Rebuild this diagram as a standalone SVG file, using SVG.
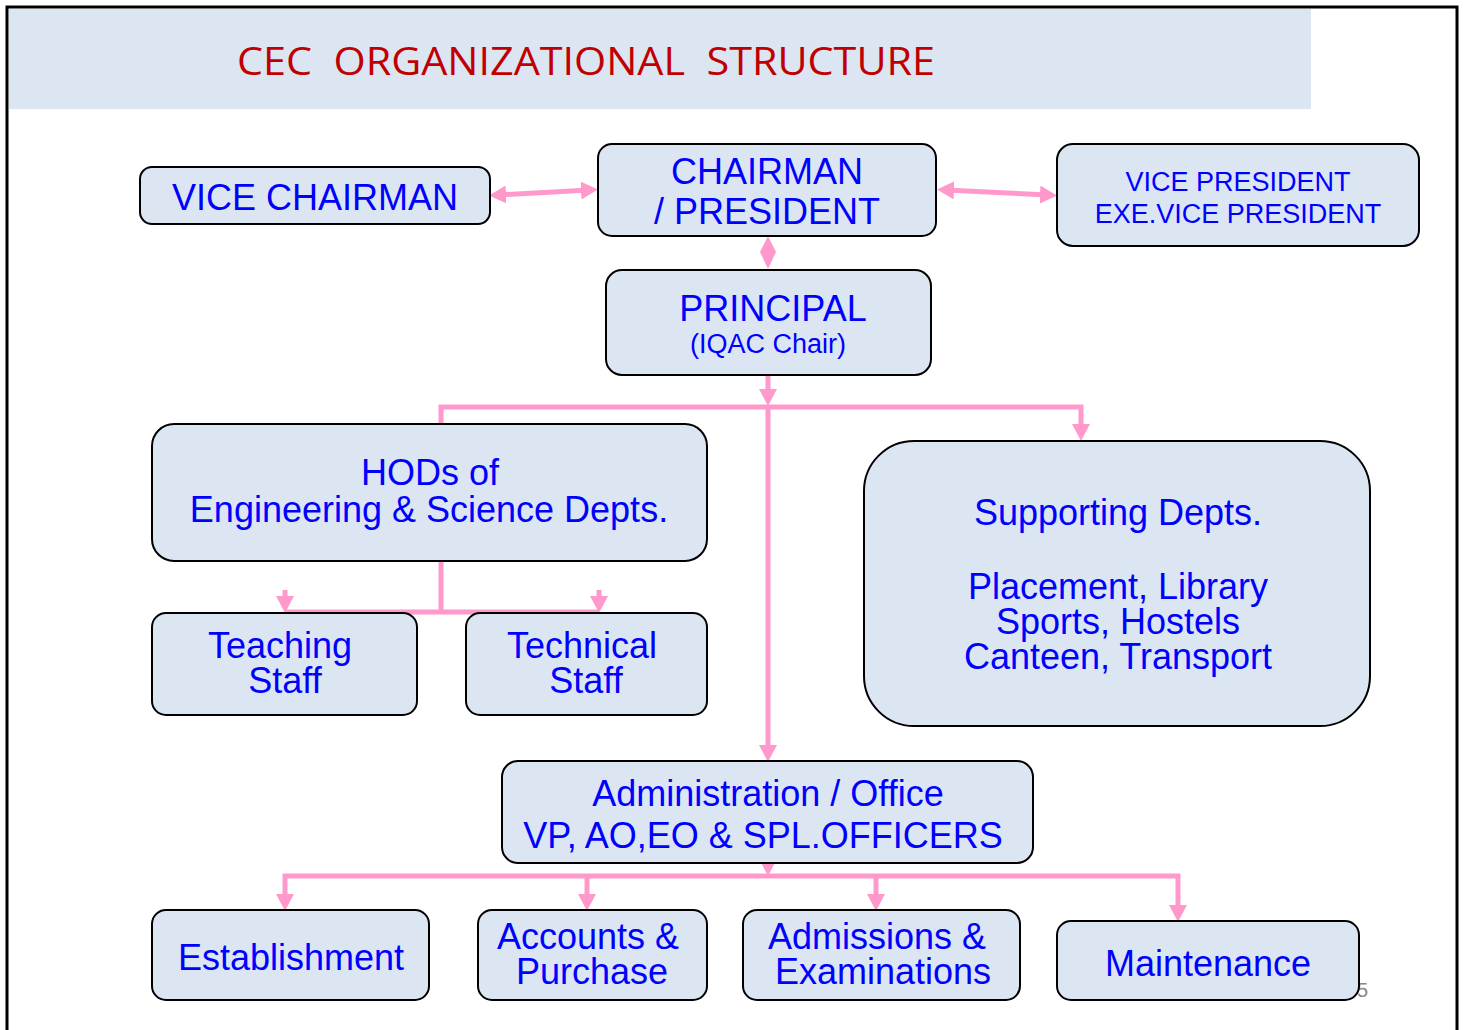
<svg xmlns="http://www.w3.org/2000/svg" width="1464" height="1030" viewBox="0 0 1464 1030">
<defs>
<style>
.node{fill:#dce6f2;stroke:#000;stroke-width:2}
.t{font-family:"Liberation Sans",Arial,sans-serif;fill:#0000ff;text-anchor:middle;font-size:36px}
.s{font-size:27px}
.c{fill:none;stroke:#ff99cc;stroke-width:5}
</style>
<marker id="ah" markerUnits="userSpaceOnUse" markerWidth="18" markerHeight="18" refX="8" refY="9" orient="auto-start-reverse" viewBox="0 0 18 18">
<path d="M0,0 L17,9 L0,18 z" fill="#ff99cc"/>
</marker>
</defs>
<rect x="0" y="0" width="1464" height="1030" fill="#fff"/>
<rect x="9" y="9" width="1302" height="100" fill="#dce6f2"/>
<rect x="7" y="7" width="1450" height="1040" fill="none" stroke="#000" stroke-width="3"/>
<text x="237" y="75" font-family="'Open Sans',sans-serif" font-size="38" fill="#c00000" textLength="698" lengthAdjust="spacingAndGlyphs" xml:space="preserve">CEC  ORGANIZATIONAL  STRUCTURE</text>
<text x="1357" y="997" font-family="'Liberation Sans',Arial,sans-serif" font-size="20" fill="#888">5</text>

<g id="connectors">
<line class="c" x1="498" y1="195" x2="589" y2="190" marker-start="url(#ah)" marker-end="url(#ah)"/>
<line class="c" x1="946" y1="190" x2="1048" y2="195" marker-start="url(#ah)" marker-end="url(#ah)"/>
<polygon points="768,236 776,252 768,269 760,252" fill="#ff99cc"/>
<line class="c" x1="768" y1="376" x2="768" y2="397" marker-end="url(#ah)"/>
<polyline class="c" points="441,432 441,407 1081,407 1081,432" marker-start="url(#ah)" marker-end="url(#ah)"/>
<line class="c" x1="768" y1="407" x2="768" y2="753" marker-end="url(#ah)"/>
<line class="c" x1="441" y1="561" x2="441" y2="612"/>
<line class="c" x1="285" y1="612" x2="599" y2="612"/>
<line class="c" x1="285" y1="590" x2="285" y2="604" marker-end="url(#ah)"/>
<line class="c" x1="599" y1="590" x2="599" y2="604" marker-end="url(#ah)"/>
<line class="c" x1="768" y1="853" x2="768" y2="867" marker-end="url(#ah)"/>
<polyline class="c" points="285,902 285,876 1178,876 1178,913" marker-start="url(#ah)" marker-end="url(#ah)"/>
<line class="c" x1="587" y1="876" x2="587" y2="902" marker-end="url(#ah)"/>
<line class="c" x1="876" y1="876" x2="876" y2="902" marker-end="url(#ah)"/>
</g>

<g id="vice-chairman">
<rect class="node" x="140" y="167" width="350" height="57" rx="12"/>
<text class="t" x="315" y="210" font-size="35">VICE CHAIRMAN</text>
</g>
<g id="chairman">
<rect class="node" x="598" y="144" width="338" height="92" rx="14"/>
<text class="t" x="767" y="184">CHAIRMAN</text>
<text class="t" x="767" y="224">/ PRESIDENT</text>
</g>
<g id="vice-president">
<rect class="node" x="1057" y="144" width="362" height="102" rx="16"/>
<text class="t s" x="1238" y="191">VICE PRESIDENT</text>
<text class="t s" x="1238" y="223">EXE.VICE PRESIDENT</text>
</g>
<g id="principal">
<rect class="node" x="606" y="270" width="325" height="105" rx="16"/>
<text class="t" x="773" y="321">PRINCIPAL</text>
<text class="t s" x="768" y="353">(IQAC Chair)</text>
</g>
<g id="hods">
<rect class="node" x="152" y="424" width="555" height="137" rx="22"/>
<text class="t" x="430" y="485">HODs of</text>
<text class="t" x="429" y="522">Engineering &amp; Science Depts.</text>
</g>
<g id="teaching">
<rect class="node" x="152" y="613" width="265" height="102" rx="14"/>
<text class="t" x="280" y="658">Teaching</text>
<text class="t" x="285" y="693">Staff</text>
</g>
<g id="technical">
<rect class="node" x="466" y="613" width="241" height="102" rx="14"/>
<text class="t" x="582" y="658">Technical</text>
<text class="t" x="586" y="693">Staff</text>
</g>
<g id="supporting">
<rect class="node" x="864" y="441" width="506" height="285" rx="50"/>
<text class="t" x="1118" y="525">Supporting Depts.</text>
<text class="t" x="1118" y="599">Placement, Library</text>
<text class="t" x="1118" y="634">Sports, Hostels</text>
<text class="t" x="1118" y="669">Canteen, Transport</text>
</g>
<g id="administration">
<rect class="node" x="502" y="761" width="531" height="102" rx="16"/>
<text class="t" x="768" y="806">Administration / Office</text>
<text class="t" x="763" y="848">VP, AO,EO &amp; SPL.OFFICERS</text>
</g>
<g id="establishment">
<rect class="node" x="152" y="910" width="277" height="90" rx="14"/>
<text class="t" x="291" y="970">Establishment</text>
</g>
<g id="accounts">
<rect class="node" x="478" y="910" width="229" height="90" rx="14"/>
<text class="t" x="588" y="949">Accounts &amp;</text>
<text class="t" x="592" y="984">Purchase</text>
</g>
<g id="admissions">
<rect class="node" x="743" y="910" width="277" height="90" rx="14"/>
<text class="t" x="877" y="949">Admissions &amp;</text>
<text class="t" x="883" y="984">Examinations</text>
</g>
<g id="maintenance">
<rect class="node" x="1057" y="921" width="302" height="79" rx="14"/>
<text class="t" x="1208" y="976">Maintenance</text>
</g>
</svg>
